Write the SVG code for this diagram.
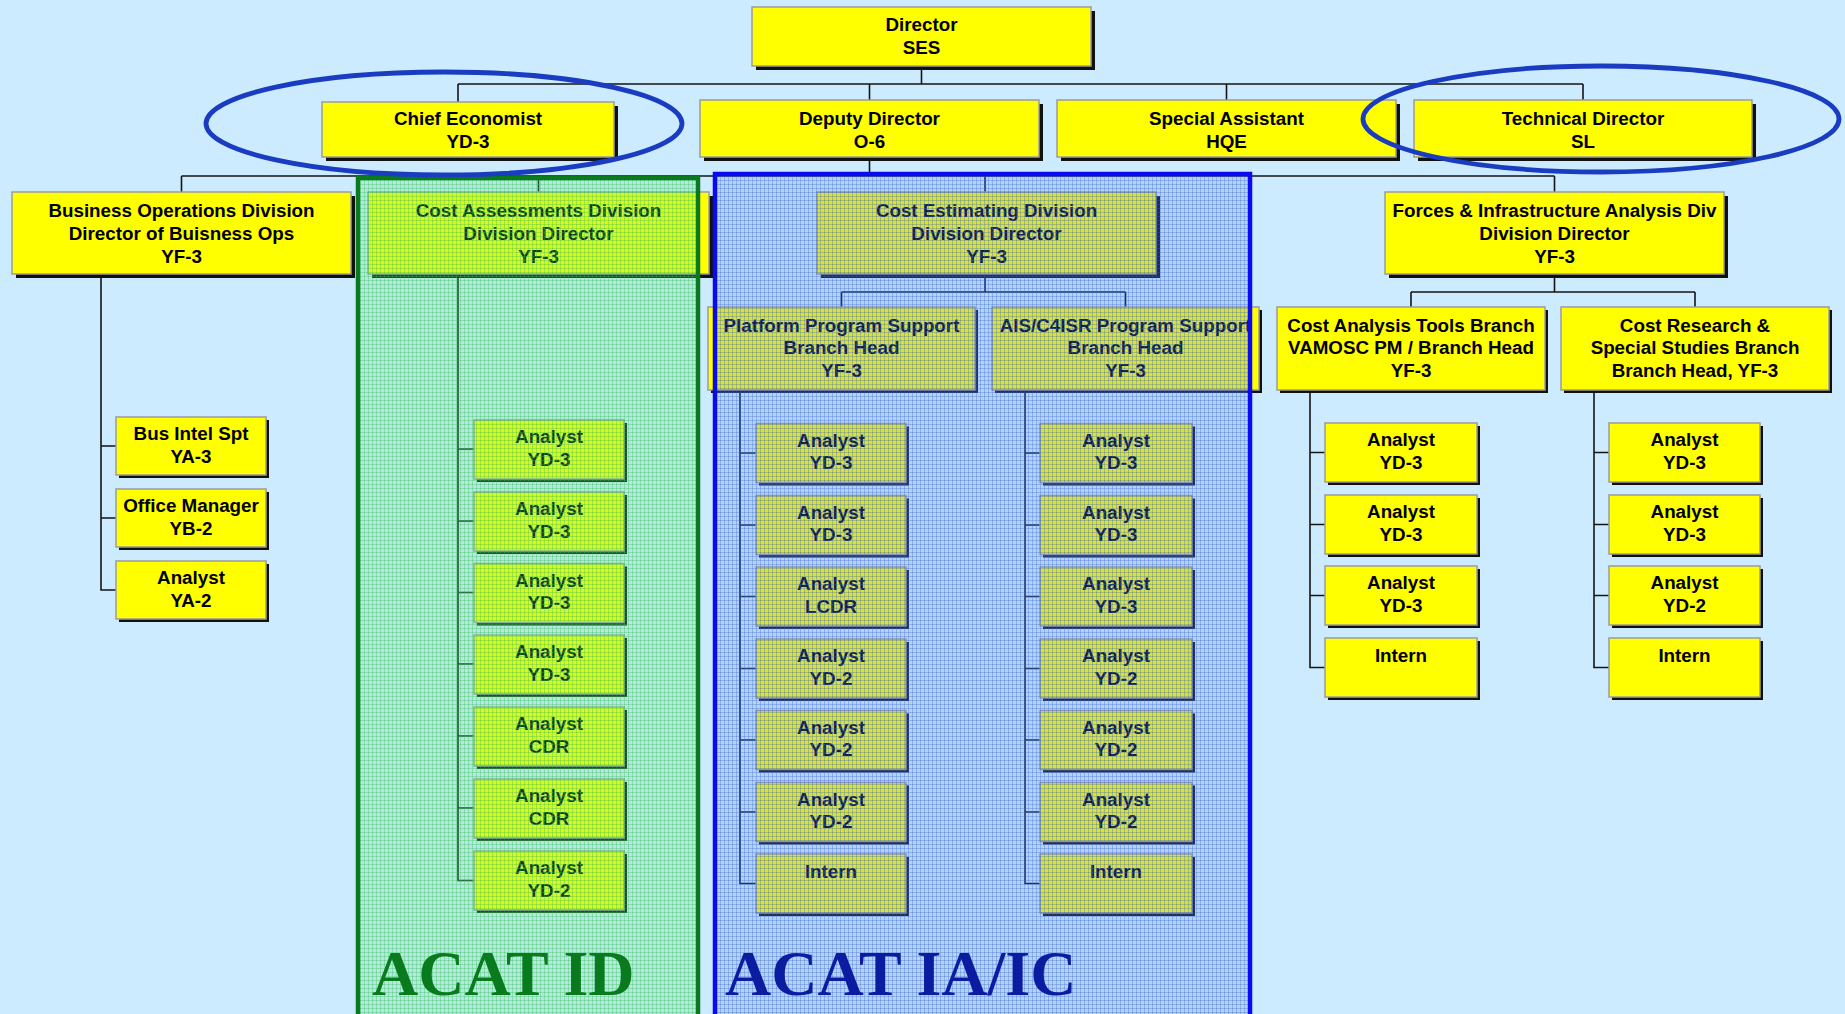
<svg xmlns="http://www.w3.org/2000/svg" width="1845" height="1014" viewBox="0 0 1845 1014">
<defs>
<style>
.bx{fill:#FFFF00;stroke:#9c9c9c;stroke-width:1.5}
.sh{fill:#111}
.t{font-family:"Liberation Sans",Arial,sans-serif;font-weight:bold;font-size:18.8px;fill:#000;text-anchor:middle}
.cn{fill:none;stroke:#141414;stroke-width:1.6}
.acat{font-family:"Liberation Serif","Times New Roman",serif;font-weight:bold;font-size:64px}
</style>
<pattern id="pg" width="4" height="4" patternUnits="userSpaceOnUse">
<rect width="4" height="4" fill="#6ee08c" fill-opacity="0.25"/>
<rect width="4" height="1" fill="#2fbf4f" fill-opacity="0.32"/>
<rect width="1" height="4" fill="#2fbf4f" fill-opacity="0.32"/>
</pattern>
<pattern id="pb" width="4" height="4" patternUnits="userSpaceOnUse">
<rect width="4" height="4" fill="#5a86e6" fill-opacity="0.24"/>
<rect width="4" height="1" fill="#3a5fd0" fill-opacity="0.3"/>
<rect width="1" height="4" fill="#3a5fd0" fill-opacity="0.3"/>
</pattern>
</defs>
<rect width="1845" height="1014" fill="#CCEBFE"/>

<g id="connectors">
<path class="cn" d="M921.5 66V84M458 84H1583M458 84V102M869.5 84V100M1226.5 84V100M1583 84V100"/>
<path class="cn" d="M869.5 157V176M181.5 176H1554.5M181.5 176V192M538.5 176V192M985 176V192M1554.5 176V192"/>
<path class="cn" d="M985 274V292M841.5 292H1125.5M841.5 292V307M1125.5 292V307"/>
<path class="cn" d="M1554.5 274V292M1411 292H1695M1411 292V307M1695 292V307"/>
<path class="cn" d="M101 274V590H116M101 446H116M101 518H116"/>
<path class="cn" d="M458 274V880.5H474M458 449H474M458 521H474M458 592.5H474M458 664H474M458 736H474M458 808H474"/>
<path class="cn" d="M740 390V883.5H756M740 453H756M740 525H756M740 596.5H756M740 668.5H756M740 740H756M740 812H756"/>
<path class="cn" d="M1025 390V883.5H1040M1025 453H1040M1025 525H1040M1025 596.5H1040M1025 668.5H1040M1025 740H1040M1025 812H1040"/>
<path class="cn" d="M1310 390V667.5H1325M1310 452.5H1325M1310 524.5H1325M1310 595.5H1325"/>
<path class="cn" d="M1594 390V667.5H1609M1594 452.5H1609M1594 524.5H1609M1594 595.5H1609"/>
</g>

<g id="director"><rect class="sh" x="756" y="11" width="339" height="59"/><rect class="bx" x="752" y="7" width="339" height="59"/><text class="t" x="921.5" y="31">Director</text><text class="t" x="921.5" y="54">SES</text></g>

<g id="chief-economist"><rect class="sh" x="326" y="106" width="292" height="55"/><rect class="bx" x="322" y="102" width="292" height="55"/><text class="t" x="468" y="124.5">Chief Economist</text><text class="t" x="468" y="148">YD-3</text></g>
<g id="deputy-director"><rect class="sh" x="704" y="104" width="339" height="57"/><rect class="bx" x="700" y="100" width="339" height="57"/><text class="t" x="869.5" y="124.5">Deputy Director</text><text class="t" x="869.5" y="148">O-6</text></g>
<g id="special-assistant"><rect class="sh" x="1061" y="104" width="339" height="57"/><rect class="bx" x="1057" y="100" width="339" height="57"/><text class="t" x="1226.5" y="124.5">Special Assistant</text><text class="t" x="1226.5" y="148">HQE</text></g>
<g id="technical-director"><rect class="sh" x="1418" y="104" width="338" height="57"/><rect class="bx" x="1414" y="100" width="338" height="57"/><text class="t" x="1583" y="124.5">Technical Director</text><text class="t" x="1583" y="148">SL</text></g>

<g id="business-ops"><rect class="sh" x="16" y="196" width="339" height="82"/><rect class="bx" x="12" y="192" width="339" height="82"/><text class="t" x="181.5" y="216.5">Business Operations Division</text><text class="t" x="181.5" y="239.5">Director of Buisness Ops</text><text class="t" x="181.5" y="262.5">YF-3</text></g>
<g id="cost-assessments"><rect class="sh" x="372" y="196" width="341" height="82"/><rect class="bx" x="368" y="192" width="341" height="82"/><text class="t" x="538.5" y="216.5">Cost Assessments Division</text><text class="t" x="538.5" y="239.5">Division Director</text><text class="t" x="538.5" y="262.5">YF-3</text></g>
<g id="cost-estimating"><rect class="sh" x="821" y="196" width="339" height="82"/><rect class="bx" x="817" y="192" width="339" height="82"/><text class="t" x="986.5" y="216.5">Cost Estimating Division</text><text class="t" x="986.5" y="239.5">Division Director</text><text class="t" x="986.5" y="262.5">YF-3</text></g>
<g id="forces-infrastructure"><rect class="sh" x="1389" y="196" width="339" height="82"/><rect class="bx" x="1385" y="192" width="339" height="82"/><text class="t" x="1554.5" y="216.5">Forces &amp; Infrastructure Analysis Div</text><text class="t" x="1554.5" y="239.5">Division Director</text><text class="t" x="1554.5" y="262.5">YF-3</text></g>

<g id="platform-branch"><rect class="sh" x="711" y="310" width="267" height="83"/><rect class="bx" x="708" y="307" width="267" height="83"/><text class="t" x="841.5" y="331.5">Platform Program Support</text><text class="t" x="841.5" y="354">Branch Head</text><text class="t" x="841.5" y="376.5">YF-3</text></g>
<g id="ais-branch"><rect class="sh" x="995" y="310" width="267" height="83"/><rect class="bx" x="992" y="307" width="267" height="83"/><text class="t" x="1125.5" y="331.5">AIS/C4ISR Program Support</text><text class="t" x="1125.5" y="354">Branch Head</text><text class="t" x="1125.5" y="376.5">YF-3</text></g>
<g id="cost-analysis-tools-branch"><rect class="sh" x="1280" y="310" width="268" height="83"/><rect class="bx" x="1277" y="307" width="268" height="83"/><text class="t" x="1411" y="331.5">Cost Analysis Tools Branch</text><text class="t" x="1411" y="354">VAMOSC PM / Branch Head</text><text class="t" x="1411" y="376.5">YF-3</text></g>
<g id="cost-research-branch"><rect class="sh" x="1564" y="310" width="268" height="83"/><rect class="bx" x="1561" y="307" width="268" height="83"/><text class="t" x="1695" y="331.5">Cost Research &amp;</text><text class="t" x="1695" y="354">Special Studies Branch</text><text class="t" x="1695" y="376.5">Branch Head, YF-3</text></g>

<g id="bo-1"><rect class="sh" x="119" y="420" width="150" height="58"/><rect class="bx" x="116" y="417" width="150" height="58"/><text class="t" x="191" y="440">Bus Intel Spt</text><text class="t" x="191" y="462.5">YA-3</text></g>
<g id="bo-2"><rect class="sh" x="119" y="492" width="150" height="58"/><rect class="bx" x="116" y="489" width="150" height="58"/><text class="t" x="191" y="512">Office Manager</text><text class="t" x="191" y="534.5">YB-2</text></g>
<g id="bo-3"><rect class="sh" x="119" y="564" width="150" height="58"/><rect class="bx" x="116" y="561" width="150" height="58"/><text class="t" x="191" y="584">Analyst</text><text class="t" x="191" y="606.5">YA-2</text></g>

<g id="ca-1"><rect class="sh" x="477" y="423" width="150" height="59"/><rect class="bx" x="474" y="420" width="150" height="59"/><text class="t" x="549" y="443">Analyst</text><text class="t" x="549" y="465.5">YD-3</text></g>
<g id="ca-2"><rect class="sh" x="477" y="495" width="150" height="59"/><rect class="bx" x="474" y="492" width="150" height="59"/><text class="t" x="549" y="515">Analyst</text><text class="t" x="549" y="537.5">YD-3</text></g>
<g id="ca-3"><rect class="sh" x="477" y="566.5" width="150" height="59"/><rect class="bx" x="474" y="563.5" width="150" height="59"/><text class="t" x="549" y="586.5">Analyst</text><text class="t" x="549" y="609">YD-3</text></g>
<g id="ca-4"><rect class="sh" x="477" y="638" width="150" height="59"/><rect class="bx" x="474" y="635" width="150" height="59"/><text class="t" x="549" y="658">Analyst</text><text class="t" x="549" y="680.5">YD-3</text></g>
<g id="ca-5"><rect class="sh" x="477" y="710" width="150" height="59"/><rect class="bx" x="474" y="707" width="150" height="59"/><text class="t" x="549" y="730">Analyst</text><text class="t" x="549" y="752.5">CDR</text></g>
<g id="ca-6"><rect class="sh" x="477" y="782" width="150" height="59"/><rect class="bx" x="474" y="779" width="150" height="59"/><text class="t" x="549" y="802">Analyst</text><text class="t" x="549" y="824.5">CDR</text></g>
<g id="ca-7"><rect class="sh" x="477" y="854" width="150" height="59"/><rect class="bx" x="474" y="851" width="150" height="59"/><text class="t" x="549" y="874">Analyst</text><text class="t" x="549" y="896.5">YD-2</text></g>

<g id="pp-1"><rect class="sh" x="759" y="426.5" width="150" height="59"/><rect class="bx" x="756" y="423.5" width="150" height="59"/><text class="t" x="831" y="446.5">Analyst</text><text class="t" x="831" y="469">YD-3</text></g>
<g id="pp-2"><rect class="sh" x="759" y="498.5" width="150" height="59"/><rect class="bx" x="756" y="495.5" width="150" height="59"/><text class="t" x="831" y="518.5">Analyst</text><text class="t" x="831" y="541">YD-3</text></g>
<g id="pp-3"><rect class="sh" x="759" y="570" width="150" height="59"/><rect class="bx" x="756" y="567" width="150" height="59"/><text class="t" x="831" y="590">Analyst</text><text class="t" x="831" y="612.5">LCDR</text></g>
<g id="pp-4"><rect class="sh" x="759" y="642" width="150" height="59"/><rect class="bx" x="756" y="639" width="150" height="59"/><text class="t" x="831" y="662">Analyst</text><text class="t" x="831" y="684.5">YD-2</text></g>
<g id="pp-5"><rect class="sh" x="759" y="713.5" width="150" height="59"/><rect class="bx" x="756" y="710.5" width="150" height="59"/><text class="t" x="831" y="733.5">Analyst</text><text class="t" x="831" y="756">YD-2</text></g>
<g id="pp-6"><rect class="sh" x="759" y="785.5" width="150" height="59"/><rect class="bx" x="756" y="782.5" width="150" height="59"/><text class="t" x="831" y="805.5">Analyst</text><text class="t" x="831" y="828">YD-2</text></g>
<g id="pp-7"><rect class="sh" x="759" y="857" width="150" height="59"/><rect class="bx" x="756" y="854" width="150" height="59"/><text class="t" x="831" y="878">Intern</text></g>

<g id="ai-1"><rect class="sh" x="1043" y="426.5" width="152" height="59"/><rect class="bx" x="1040" y="423.5" width="152" height="59"/><text class="t" x="1116" y="446.5">Analyst</text><text class="t" x="1116" y="469">YD-3</text></g>
<g id="ai-2"><rect class="sh" x="1043" y="498.5" width="152" height="59"/><rect class="bx" x="1040" y="495.5" width="152" height="59"/><text class="t" x="1116" y="518.5">Analyst</text><text class="t" x="1116" y="541">YD-3</text></g>
<g id="ai-3"><rect class="sh" x="1043" y="570" width="152" height="59"/><rect class="bx" x="1040" y="567" width="152" height="59"/><text class="t" x="1116" y="590">Analyst</text><text class="t" x="1116" y="612.5">YD-3</text></g>
<g id="ai-4"><rect class="sh" x="1043" y="642" width="152" height="59"/><rect class="bx" x="1040" y="639" width="152" height="59"/><text class="t" x="1116" y="662">Analyst</text><text class="t" x="1116" y="684.5">YD-2</text></g>
<g id="ai-5"><rect class="sh" x="1043" y="713.5" width="152" height="59"/><rect class="bx" x="1040" y="710.5" width="152" height="59"/><text class="t" x="1116" y="733.5">Analyst</text><text class="t" x="1116" y="756">YD-2</text></g>
<g id="ai-6"><rect class="sh" x="1043" y="785.5" width="152" height="59"/><rect class="bx" x="1040" y="782.5" width="152" height="59"/><text class="t" x="1116" y="805.5">Analyst</text><text class="t" x="1116" y="828">YD-2</text></g>
<g id="ai-7"><rect class="sh" x="1043" y="857" width="152" height="59"/><rect class="bx" x="1040" y="854" width="152" height="59"/><text class="t" x="1116" y="878">Intern</text></g>

<g id="ct-1"><rect class="sh" x="1328" y="426" width="152" height="59"/><rect class="bx" x="1325" y="423" width="152" height="59"/><text class="t" x="1401" y="446">Analyst</text><text class="t" x="1401" y="468.5">YD-3</text></g>
<g id="ct-2"><rect class="sh" x="1328" y="498" width="152" height="59"/><rect class="bx" x="1325" y="495" width="152" height="59"/><text class="t" x="1401" y="518">Analyst</text><text class="t" x="1401" y="540.5">YD-3</text></g>
<g id="ct-3"><rect class="sh" x="1328" y="569" width="152" height="59"/><rect class="bx" x="1325" y="566" width="152" height="59"/><text class="t" x="1401" y="589">Analyst</text><text class="t" x="1401" y="611.5">YD-3</text></g>
<g id="ct-4"><rect class="sh" x="1328" y="641" width="152" height="59"/><rect class="bx" x="1325" y="638" width="152" height="59"/><text class="t" x="1401" y="662">Intern</text></g>

<g id="cr-1"><rect class="sh" x="1612" y="426" width="151" height="59"/><rect class="bx" x="1609" y="423" width="151" height="59"/><text class="t" x="1684.5" y="446">Analyst</text><text class="t" x="1684.5" y="468.5">YD-3</text></g>
<g id="cr-2"><rect class="sh" x="1612" y="498" width="151" height="59"/><rect class="bx" x="1609" y="495" width="151" height="59"/><text class="t" x="1684.5" y="518">Analyst</text><text class="t" x="1684.5" y="540.5">YD-3</text></g>
<g id="cr-3"><rect class="sh" x="1612" y="569" width="151" height="59"/><rect class="bx" x="1609" y="566" width="151" height="59"/><text class="t" x="1684.5" y="589">Analyst</text><text class="t" x="1684.5" y="611.5">YD-2</text></g>
<g id="cr-4"><rect class="sh" x="1612" y="641" width="151" height="59"/><rect class="bx" x="1609" y="638" width="151" height="59"/><text class="t" x="1684.5" y="662">Intern</text></g>

<g id="acat-id">
<rect x="358" y="178" width="340" height="850" fill="url(#pg)"/>
<text class="acat" x="372" y="995" fill="#0A7A1E">ACAT ID</text>
<rect x="358" y="178" width="340" height="850" fill="none" stroke="#0A7A1E" stroke-width="4.5"/>
</g>
<g id="acat-ia-ic">
<rect x="715" y="174" width="535" height="850" fill="url(#pb)"/>
<text class="acat" x="725" y="995" fill="#0C1CA0">ACAT IA/IC</text>
<rect x="715" y="174" width="535" height="850" fill="none" stroke="#0A0AF0" stroke-width="4.5"/>
</g>

<g id="highlights" fill="none" stroke="#1A3CC0" stroke-width="4.8">
<ellipse cx="444" cy="123.5" rx="238" ry="51.5"/>
<ellipse cx="1601" cy="119" rx="238" ry="53"/>
</g>
</svg>
